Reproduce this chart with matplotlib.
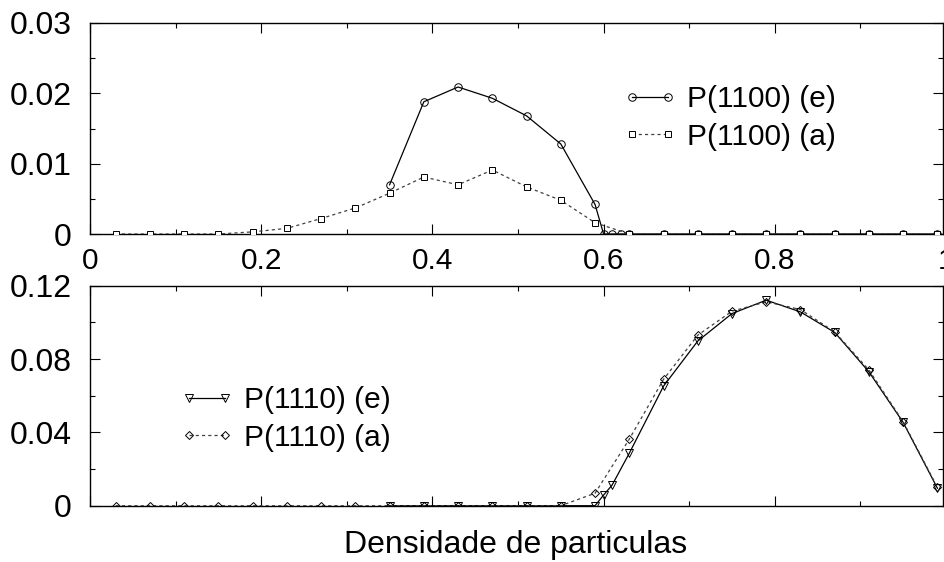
import matplotlib
matplotlib.use("Agg")
import matplotlib.pyplot as plt
from matplotlib.ticker import MultipleLocator, FixedLocator
import matplotlib.transforms as mtransforms

plt.rcParams['font.family'] = ['Liberation Sans', 'DejaVu Sans']

# ---- data ----
x_a = [0.03, 0.07, 0.11, 0.15, 0.19, 0.23, 0.27, 0.31, 0.35, 0.39, 0.43, 0.47, 0.51,
       0.55, 0.59, 0.63, 0.67, 0.71, 0.75, 0.79, 0.83, 0.87, 0.91, 0.95, 0.99]

x_e_top = [0.35, 0.39, 0.43, 0.47, 0.51, 0.55, 0.59, 0.60, 0.61, 0.62, 0.63,
           0.67, 0.71, 0.75, 0.79, 0.83, 0.87, 0.91, 0.95, 0.99]
p1100_e = [0.0070, 0.0188, 0.0209, 0.0193, 0.0168, 0.0128, 0.0042, 0.0, 0.0, 0.0, 0.0,
           0.0, 0.0, 0.0, 0.0, 0.0, 0.0, 0.0, 0.0, 0.0]
p1100_a = [0.0, 0.0, 0.0, 0.0, 0.0003, 0.0008, 0.0022, 0.0037, 0.0058, 0.0081, 0.0070,
           0.0091, 0.0067, 0.0048, 0.0016, 0.0, 0.0, 0.0, 0.0, 0.0, 0.0, 0.0, 0.0, 0.0, 0.0]

x_e_bot = [0.35, 0.39, 0.43, 0.47, 0.51, 0.55, 0.59, 0.60, 0.61, 0.63,
           0.67, 0.71, 0.75, 0.79, 0.83, 0.87, 0.91, 0.95, 0.99]
p1110_e = [0.0, 0.0, 0.0, 0.0, 0.0, 0.0, 0.0, 0.0058, 0.0113, 0.0286,
           0.0652, 0.0898, 0.1048, 0.1121, 0.1057, 0.0945, 0.0730, 0.0454, 0.0095]
p1110_a = [0.0, 0.0, 0.0, 0.0, 0.0, 0.0, 0.0, 0.0, 0.0, 0.0, 0.0, 0.0, 0.0, 0.0,
           0.0068, 0.0363, 0.0689, 0.0930, 0.1061, 0.1112, 0.1070, 0.0948, 0.0740,
           0.0458, 0.0100]

labels_top = ["P(1100) (e)", "P(1100) (a)"]
labels_bot = ["P(1110) (e)", "P(1110) (a)"]
xticks = [0, 0.2, 0.4, 0.6, 0.8]
xticklabels = ["0", "0.2", "0.4", "0.6", "0.8"]
yticks_top = [0, 0.01, 0.02, 0.03]
yticklabels_top = ["0", "0.01", "0.02", "0.03"]
yticks_bot = [0, 0.04, 0.08, 0.12]
yticklabels_bot = ["0", "0.04", "0.08", "0.12"]
xlabel = "Densidade de particulas"

FS = 21.5
FSY = 23.0
FSL = 23.0
W, H = 944, 562
fig = plt.figure(figsize=(W / 100, H / 100), dpi=100)

def px_axes(l, t, r, b):
    return fig.add_axes([l / W, 1 - b / H, (r - l) / W, (b - t) / H])

ax1 = px_axes(90, 23, 943, 234)
ax2 = px_axes(90, 285.7, 943, 505.7)

lw = 0.9
dash = (0, (2.5, 2.5))

ax1.plot(x_e_top, p1100_e, color='black', lw=lw, marker='o', ms=5.4, mfc='none',
         mec='black', mew=0.7, label=labels_top[0], zorder=3)
ax1.plot(x_a, p1100_a, color='0.25', lw=lw, ls=dash, marker='s', ms=5.0, mfc='white',
         mec='black', mew=0.7, label=labels_top[1], zorder=4)

ax2.plot(x_e_bot, p1110_e, color='black', lw=lw, marker='v', ms=5.4, mfc='none',
         mec='black', mew=0.7, label=labels_bot[0], zorder=3)
ax2.plot(x_a, p1110_a, color='0.25', lw=lw, ls=dash, marker='D', ms=3.8, mfc='none',
         mec='black', mew=0.7, label=labels_bot[1], zorder=4)

XPAD = 9.5
for ax in (ax1, ax2):
    ax.set_xlim(0, 0.9965)
    ax.xaxis.set_major_locator(FixedLocator(xticks))
    ax.xaxis.set_minor_locator(MultipleLocator(0.1))
    ax.tick_params(which='both', direction='in', top=True, right=True, width=0.8)
    ax.tick_params(which='major', length=7.5)
    ax.tick_params(which='minor', length=3.8)
    ax.tick_params(axis='y', which='major', pad=13, labelsize=FSY)
    ax.tick_params(axis='x', which='major', pad=XPAD, labelsize=FS)
    for s in ax.spines.values():
        s.set_linewidth(1.0)

ax1.set_ylim(0, 0.03)
ax1.set_yticks(yticks_top)
ax1.set_yticklabels(yticklabels_top)
ax1.yaxis.set_minor_locator(MultipleLocator(0.005))
ax1.set_xticklabels(xticklabels)
# the "1" label at the clipped right edge
off = mtransforms.offset_copy(ax1.get_xaxis_transform(), fig=fig, x=0, y=-XPAD, units='points')
ax1.text(1.0, 0, "1", transform=off, ha='center', va='top', fontsize=FS, clip_on=False)

ax2.set_ylim(0, 0.12)
ax2.set_yticks(yticks_bot)
ax2.set_yticklabels(yticklabels_bot)
ax2.yaxis.set_minor_locator(MultipleLocator(0.02))
ax2.set_xticklabels([])

leg_kw = dict(frameon=False, fontsize=FS, numpoints=2, handlelength=1.8,
              handletextpad=0.35, labelspacing=0.32, borderpad=0, borderaxespad=0)
ax1.legend(loc='center left', bbox_to_anchor=(623 / W, 1 - 118 / H),
           bbox_transform=fig.transFigure, **leg_kw)
ax2.legend(loc='center left', bbox_to_anchor=(180 / W, 1 - 419 / H),
           bbox_transform=fig.transFigure, **leg_kw)

fig.text(516 / W, 1 - 545 / H, xlabel, ha='center', va='center', fontsize=FSL)

fig.savefig("out.png", dpi=100)
